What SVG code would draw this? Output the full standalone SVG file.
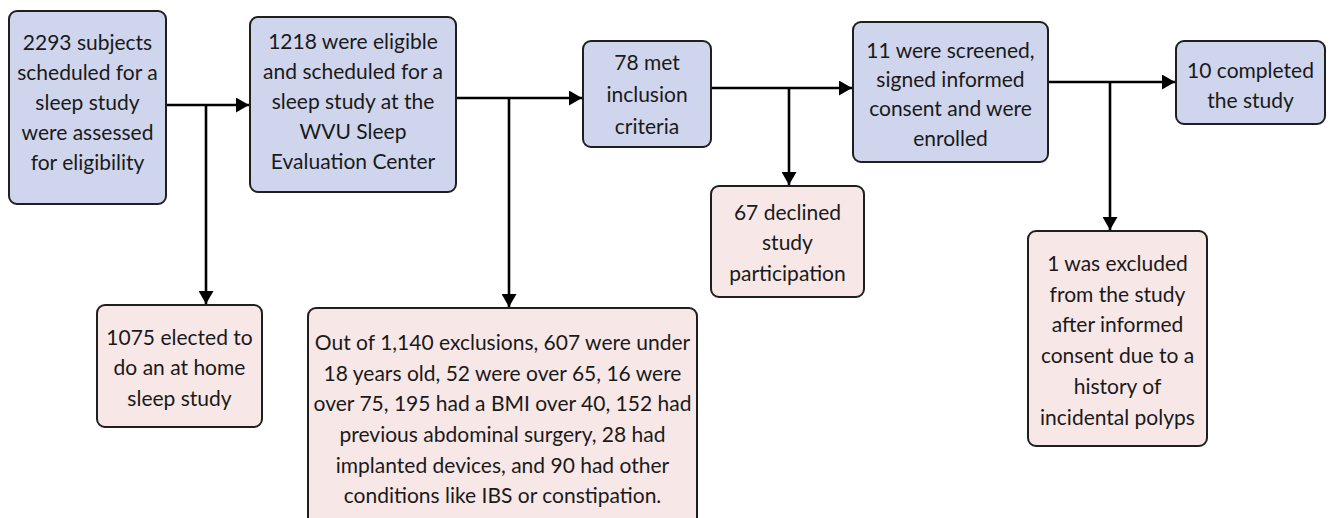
<svg xmlns="http://www.w3.org/2000/svg" width="1330" height="518" viewBox="0 0 1330 518">
<style>
.blue{fill:#cfd5ec;stroke:#1f1f1f;stroke-width:2}
.pink{fill:#f7e7e7;stroke:#1f1f1f;stroke-width:2}
text{font-family:Lato,"Liberation Sans",sans-serif;font-size:21px;fill:#1a1a1a;text-anchor:middle}
.ln{stroke:#000;stroke-width:2.6;fill:none}
</style>
<defs>
<marker id="ah" markerWidth="13" markerHeight="15" refX="13" refY="7.5" orient="auto" markerUnits="userSpaceOnUse">
<path d="M0,0 L13,7.5 L0,15 Z" fill="#000"/>
</marker>
</defs>
<rect width="1330" height="518" fill="#fff"/>
<g id="connectors">
<line class="ln" x1="166" y1="105" x2="249" y2="105" marker-end="url(#ah)"/>
<line class="ln" x1="206" y1="105" x2="206" y2="304" marker-end="url(#ah)"/>
<line class="ln" x1="456" y1="98" x2="582" y2="98" marker-end="url(#ah)"/>
<line class="ln" x1="509" y1="98" x2="509" y2="307" marker-end="url(#ah)"/>
<line class="ln" x1="711" y1="88" x2="852" y2="88" marker-end="url(#ah)"/>
<line class="ln" x1="789" y1="88" x2="789" y2="185" marker-end="url(#ah)"/>
<line class="ln" x1="1048" y1="82" x2="1175" y2="82" marker-end="url(#ah)"/>
<line class="ln" x1="1110" y1="82" x2="1110" y2="230" marker-end="url(#ah)"/>
</g>
<g id="n1">
<rect class="blue" x="9" y="11" width="157" height="193" rx="8"/>
<text x="87.5" y="50">2293 subjects</text>
<text x="87.5" y="80">scheduled for a</text>
<text x="87.5" y="110">sleep study</text>
<text x="87.5" y="140">were assessed</text>
<text x="87.5" y="170">for eligibility</text>
</g>
<g id="n2">
<rect class="blue" x="250" y="17" width="206" height="175" rx="8"/>
<text x="353" y="49">1218 were eligible</text>
<text x="353" y="79">and scheduled for a</text>
<text x="353" y="109">sleep study at the</text>
<text x="353" y="139">WVU Sleep</text>
<text x="353" y="169">Evaluation Center</text>
</g>
<g id="n3">
<rect class="blue" x="583" y="41" width="128" height="106" rx="8"/>
<text x="647" y="70">78 met</text>
<text x="647" y="102">inclusion</text>
<text x="647" y="134">criteria</text>
</g>
<g id="n4">
<rect class="blue" x="853" y="22" width="195" height="140" rx="8"/>
<text x="950.5" y="58">11 were screened,</text>
<text x="950.5" y="87">signed informed</text>
<text x="950.5" y="116">consent and were</text>
<text x="950.5" y="146">enrolled</text>
</g>
<g id="n5">
<rect class="blue" x="1176" y="41" width="149" height="83" rx="8"/>
<text x="1250.5" y="78">10 completed</text>
<text x="1250.5" y="108">the study</text>
</g>
<g id="n6">
<rect class="pink" x="97" y="305" width="165" height="122" rx="8"/>
<text x="179.5" y="345">1075 elected to</text>
<text x="179.5" y="375">do an at home</text>
<text x="179.5" y="406">sleep study</text>
</g>
<g id="n7">
<rect class="pink" x="308" y="308" width="389" height="220" rx="8"/>
<text x="502.5" y="350">Out of 1,140 exclusions, 607 were under</text>
<text x="502.5" y="381">18 years old, 52 were over 65, 16 were</text>
<text x="502.5" y="411">over 75, 195 had a BMI over 40, 152 had</text>
<text x="502.5" y="442">previous abdominal surgery, 28 had</text>
<text x="502.5" y="473">implanted devices, and 90 had other</text>
<text x="502.5" y="503">conditions like IBS or constipation.</text>
</g>
<g id="n8">
<rect class="pink" x="711" y="186" width="153" height="111" rx="8"/>
<text x="787.5" y="220">67 declined</text>
<text x="787.5" y="250">study</text>
<text x="787.5" y="281">participation</text>
</g>
<g id="n9">
<rect class="pink" x="1028" y="231" width="179" height="215" rx="8"/>
<text x="1117.5" y="271">1 was excluded</text>
<text x="1117.5" y="302">from the study</text>
<text x="1117.5" y="332">after informed</text>
<text x="1117.5" y="363">consent due to a</text>
<text x="1117.5" y="394">history of</text>
<text x="1117.5" y="425">incidental polyps</text>
</g>
</svg>
